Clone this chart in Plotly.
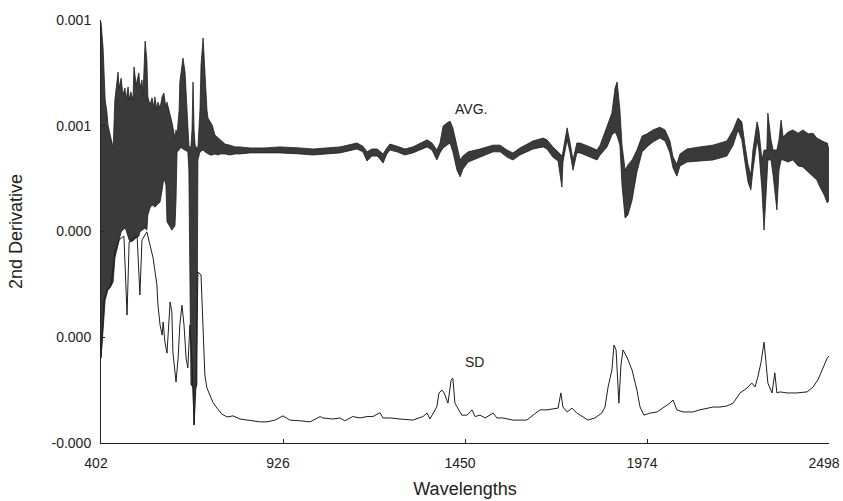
import plotly.graph_objects as go

# ---- AVG. band (upper / lower envelope of the overlaid average spectra) ----
AVG_WL = [402, 405, 408, 414, 419, 422, 428, 437, 442, 451, 454, 460, 465, 471, 474, 480, 483, 488,
          494, 497, 503, 511, 514, 520, 523, 529, 534, 537, 543, 549, 555, 557, 563, 566, 572, 578,
          583, 589, 592, 598, 606, 615, 618, 621, 627, 629, 635, 638, 644, 647, 652, 655, 658, 661,
          664, 667, 670, 673, 678, 681, 687, 690, 696, 701, 707, 710, 716, 722, 730, 739, 745, 759,
          773, 788, 802, 831, 874, 917, 975, 1012, 1090, 1110, 1139, 1156, 1168, 1182, 1197, 1205,
          1214, 1225, 1234, 1254, 1277, 1300, 1341, 1355, 1369, 1378, 1387, 1398, 1407, 1415, 1427,
          1436, 1444, 1459, 1493, 1531, 1551, 1571, 1588, 1608, 1646, 1675, 1686, 1703, 1718, 1729,
          1732, 1744, 1752, 1761, 1772, 1781, 1810, 1830, 1839, 1859, 1873, 1882, 1888, 1896, 1902,
          1911, 1919, 1931, 1945, 1960, 1974, 1991, 2011, 2026, 2040, 2049, 2060, 2069, 2089, 2126,
          2164, 2204, 2222, 2236, 2247, 2256, 2265, 2273, 2279, 2291, 2296, 2305, 2311, 2319, 2322,
          2331, 2337, 2348, 2354, 2360, 2366, 2380, 2394, 2409, 2423, 2438, 2452, 2463, 2472, 2484,
          2493, 2498]
AVG_HI = [9.94e-4, 9.43e-4, 9.21e-4, 7.73e-4, 7.39e-4, 7.02e-4, 6.74e-4, 6.37e-4, 7.73e-4, 8.52e-4,
          8.07e-4, 8.35e-4, 7.87e-4, 8.07e-4, 7.73e-4, 8.10e-4, 7.73e-4, 7.96e-4, 7.73e-4, 8.67e-4,
          8.16e-4, 8.50e-4, 8.07e-4, 8.30e-4, 7.87e-4, 9.40e-4, 8.87e-4, 7.82e-4, 7.59e-4, 7.79e-4,
          7.50e-4, 7.82e-4, 7.45e-4, 7.67e-4, 7.50e-4, 7.82e-4, 7.93e-4, 7.50e-4, 7.67e-4, 7.45e-4,
          7.11e-4, 6.65e-4, 6.88e-4, 6.74e-4, 7.45e-4, 8.24e-4, 8.81e-4, 8.92e-4, 8.52e-4, 8.01e-4,
          6.82e-4, 6.45e-4, 6.37e-4, 6.42e-4, 6.88e-4, 8.24e-4, 6.88e-4, 6.45e-4, 6.37e-4, 6.37e-4,
          7.45e-4, 8.72e-4, 9.49e-4, 8.44e-4, 7.45e-4, 7.22e-4, 7.11e-4, 7.02e-4, 6.74e-4, 6.65e-4,
          6.60e-4, 6.48e-4, 6.45e-4, 6.40e-4, 6.40e-4, 6.37e-4, 6.37e-4, 6.40e-4, 6.37e-4, 6.34e-4,
          6.40e-4, 6.45e-4, 6.51e-4, 6.42e-4, 6.26e-4, 6.34e-4, 6.34e-4, 6.28e-4, 6.20e-4, 6.37e-4,
          6.48e-4, 6.42e-4, 6.34e-4, 6.40e-4, 6.60e-4, 6.51e-4, 6.31e-4, 6.51e-4, 6.99e-4, 7.08e-4,
          7.13e-4, 6.94e-4, 6.37e-4, 6.03e-4, 6.14e-4, 6.26e-4, 6.34e-4, 6.45e-4, 6.45e-4, 6.31e-4,
          6.23e-4, 6.37e-4, 6.57e-4, 6.65e-4, 6.60e-4, 6.40e-4, 6.26e-4, 6.14e-4, 6.26e-4, 6.94e-4,
          6.54e-4, 6.03e-4, 6.51e-4, 6.51e-4, 6.40e-4, 6.31e-4, 6.45e-4, 6.96e-4, 7.36e-4, 8.07e-4,
          8.24e-4, 7.45e-4, 6.45e-4, 5.74e-4, 5.89e-4, 6.03e-4, 6.31e-4, 6.71e-4, 6.77e-4, 6.88e-4,
          6.96e-4, 6.88e-4, 6.57e-4, 6.11e-4, 5.91e-4, 6.20e-4, 6.34e-4, 6.40e-4, 6.45e-4, 6.57e-4,
          6.88e-4, 7.22e-4, 7.11e-4, 6.45e-4, 5.89e-4, 5.60e-4, 6.31e-4, 7.11e-4, 6.88e-4, 6.03e-4,
          6.31e-4, 6.31e-4, 7.36e-4, 6.60e-4, 6.31e-4, 6.31e-4, 6.60e-4, 7.16e-4, 6.68e-4, 6.82e-4,
          6.88e-4, 6.79e-4, 6.88e-4, 6.77e-4, 6.79e-4, 6.65e-4, 6.60e-4, 6.54e-4, 6.51e-4, 6.31e-4]
AVG_LO = [0.41e-4, 0.92e-4, 1.21e-4, 2.06e-4, 2.28e-4, 2.34e-4, 2.40e-4, 2.57e-4, 3.25e-4, 3.62e-4,
          3.76e-4, 3.99e-4, 4.04e-4, 4.10e-4, 4.04e-4, 3.87e-4, 3.76e-4, 3.70e-4, 3.73e-4, 3.76e-4,
          3.82e-4, 3.87e-4, 3.99e-4, 4.04e-4, 4.07e-4, 4.10e-4, 4.04e-4, 4.47e-4, 4.67e-4, 4.75e-4,
          4.72e-4, 4.69e-4, 4.75e-4, 4.78e-4, 4.84e-4, 5.18e-4, 5.52e-4, 5.32e-4, 4.27e-4, 4.18e-4,
          4.04e-4, 4.16e-4, 4.89e-4, 6.26e-4, 6.31e-4, 6.37e-4, 6.37e-4, 6.34e-4, 6.31e-4, 6.28e-4,
          6.26e-4, 5.74e-4, 2.06e-4, -0.35e-4, -0.38e-4, -0.44e-4, -1.49e-4, -0.50e-4, -0.35e-4, 6.03e-4,
          6.26e-4, 6.28e-4, 6.31e-4, 6.26e-4, 6.23e-4, 6.20e-4, 6.17e-4, 6.17e-4, 6.20e-4, 6.17e-4,
          6.20e-4, 6.20e-4, 6.17e-4, 6.20e-4, 6.20e-4, 6.23e-4, 6.23e-4, 6.23e-4, 6.20e-4, 6.17e-4,
          6.23e-4, 6.28e-4, 6.34e-4, 6.26e-4, 6.00e-4, 6.14e-4, 6.14e-4, 6.06e-4, 5.94e-4, 6.20e-4,
          6.31e-4, 6.26e-4, 6.17e-4, 6.23e-4, 6.40e-4, 6.31e-4, 6.03e-4, 6.23e-4, 6.37e-4, 6.45e-4,
          6.51e-4, 6.26e-4, 5.74e-4, 5.55e-4, 5.77e-4, 5.97e-4, 6.11e-4, 6.26e-4, 6.26e-4, 6.11e-4,
          6.03e-4, 6.17e-4, 6.34e-4, 6.40e-4, 6.34e-4, 6.11e-4, 6.00e-4, 5.26e-4, 5.97e-4, 6.60e-4,
          6.26e-4, 5.74e-4, 6.23e-4, 6.23e-4, 6.11e-4, 6.03e-4, 6.17e-4, 6.40e-4, 6.74e-4, 6.82e-4,
          6.71e-4, 6.45e-4, 5.32e-4, 4.38e-4, 4.47e-4, 4.89e-4, 5.69e-4, 6.26e-4, 6.40e-4, 6.54e-4,
          6.65e-4, 6.57e-4, 6.23e-4, 5.80e-4, 5.57e-4, 5.86e-4, 5.97e-4, 6.00e-4, 6.03e-4, 6.14e-4,
          6.45e-4, 6.88e-4, 6.60e-4, 5.97e-4, 5.40e-4, 5.18e-4, 5.74e-4, 6.60e-4, 6.31e-4, 5.18e-4,
          4.04e-4, 5.46e-4, 6.03e-4, 6.03e-4, 5.60e-4, 4.61e-4, 5.74e-4, 6.03e-4, 6.03e-4, 5.97e-4,
          6.03e-4, 5.86e-4, 5.83e-4, 5.69e-4, 5.55e-4, 5.46e-4, 5.26e-4, 5.04e-4, 4.81e-4, 4.89e-4]

# ---- SD curve ----
SD_WL = [402, 411, 419, 431, 442, 454, 468, 477, 483, 494, 506, 514, 520, 534, 543, 552, 563, 566,
         572, 578, 581, 586, 592, 595, 601, 606, 609, 618, 624, 629, 635, 641, 647, 652, 658, 664,
         670, 676, 681, 690, 693, 696, 701, 707, 716, 724, 736, 750, 765, 782, 802, 831, 860, 880,
         903, 926, 946, 975, 1004, 1033, 1041, 1070, 1090, 1104, 1127, 1148, 1168, 1185, 1205, 1214,
         1234, 1263, 1300, 1329, 1341, 1349, 1369, 1375, 1384, 1390, 1398, 1401, 1410, 1415, 1421,
         1430, 1441, 1456, 1470, 1479, 1493, 1508, 1531, 1542, 1559, 1588, 1628, 1646, 1666, 1686,
         1703, 1718, 1726, 1732, 1744, 1758, 1772, 1790, 1804, 1824, 1844, 1853, 1862, 1873, 1879,
         1885, 1888, 1893, 1899, 1905, 1916, 1931, 1945, 1954, 1965, 1983, 2003, 2020, 2040, 2049,
         2060, 2078, 2106, 2126, 2147, 2164, 2184, 2204, 2222, 2242, 2262, 2276, 2285, 2293, 2302,
         2311, 2316, 2322, 2334, 2342, 2348, 2357, 2377, 2406, 2435, 2452, 2466, 2481, 2493, 2498]
SD_VAL = [0.41e-4, 2.06e-4, 2.34e-4, 2.48e-4, 3.42e-4, 3.76e-4, 3.87e-4, 1.63e-4, 3.70e-4, 3.82e-4,
          3.87e-4, 2.20e-4, 3.76e-4, 3.99e-4, 3.62e-4, 3.25e-4, 2.48e-4, 1.91e-4, 1.35e-4, 1.06e-4,
          1.43e-4, 0.86e-4, 0.55e-4, 1.06e-4, 2.00e-4, 1.72e-4, 0.58e-4, -0.27e-4, 0.41e-4, 1.35e-4,
          1.91e-4, 1.35e-4, 0.41e-4, 0.13e-4, 1.35e-4, 0.35e-4, -1.49e-4, -0.21e-4, 2.85e-4, 2.77e-4,
          1.83e-4, 0.86e-4, -0.07e-4, -0.44e-4, -0.64e-4, -0.84e-4, -1.01e-4, -1.18e-4, -1.26e-4, -1.23e-4,
          -1.32e-4, -1.37e-4, -1.40e-4, -1.40e-4, -1.35e-4, -1.23e-4, -1.35e-4, -1.37e-4, -1.40e-4, -1.25e-4,
          -1.29e-4, -1.32e-4, -1.29e-4, -1.37e-4, -1.25e-4, -1.29e-4, -1.25e-4, -1.25e-4, -1.14e-4, -1.29e-4,
          -1.29e-4, -1.32e-4, -1.35e-4, -1.25e-4, -1.15e-4, -1.32e-4, -0.97e-4, -0.58e-4, -0.50e-4, -0.58e-4,
          -0.78e-4, -0.87e-4, -0.21e-4, -0.16e-4, -0.87e-4, -1.01e-4, -1.21e-4, -1.21e-4, -1.06e-4, -1.25e-4,
          -1.21e-4, -1.29e-4, -1.15e-4, -1.29e-4, -1.29e-4, -1.35e-4, -1.35e-4, -1.21e-4, -1.06e-4, -1.06e-4,
          -1.04e-4, -1.01e-4, -0.58e-4, -0.98e-4, -1.12e-4, -1.01e-4, -1.15e-4, -1.26e-4, -1.35e-4, -1.29e-4,
          -1.15e-4, -0.98e-4, -0.41e-4, 0.07e-4, 0.78e-4, 0.64e-4, -0.13e-4, -0.87e-4, 0.21e-4, 0.64e-4,
          0.44e-4, 0.07e-4, -0.50e-4, -0.98e-4, -1.21e-4, -1.15e-4, -1.12e-4, -1.01e-4, -0.87e-4, -0.78e-4,
          -1.06e-4, -1.12e-4, -1.12e-4, -1.06e-4, -1.01e-4, -0.98e-4, -0.98e-4, -0.95e-4, -0.87e-4, -0.58e-4,
          -0.44e-4, -0.30e-4, -0.41e-4, -0.13e-4, 0.27e-4, 0.86e-4, 0.35e-4, -0.30e-4, -0.58e-4, -0.01e-4,
          -0.58e-4, -0.55e-4, -0.58e-4, -0.58e-4, -0.55e-4, -0.41e-4, -0.21e-4, 0.13e-4, 0.41e-4, 0.47e-4]

# ---- axis ticks ----
X_TICKS = [402, 926, 1450, 1974, 2498]
Y_TICKS = [-0.0002, 0.0001, 0.0004, 0.0007, 0.0010]
Y_TICK_TEXT = ["-0.000", "0.000", "0.000", "0.001", "0.001"]

INK = "#1e1e1e"
BAND = "#3a3a3a"
FONT = "Liberation Sans, Arial, Helvetica, sans-serif"

fig = go.Figure()
fig.add_trace(go.Scatter(x=AVG_WL, y=AVG_LO, mode="lines",
                         line=dict(color=INK, width=0.8), hoverinfo="skip", showlegend=False))
fig.add_trace(go.Scatter(x=AVG_WL, y=AVG_HI, mode="lines", fill="tonexty", fillcolor=BAND,
                         line=dict(color=INK, width=0.8), name="AVG.", showlegend=False))
fig.add_trace(go.Scatter(x=SD_WL, y=SD_VAL, mode="lines",
                         line=dict(color=INK, width=1), name="SD", showlegend=False))

fig.add_annotation(x=1467, y=7.48e-4, text="AVG.", showarrow=False,
                   font=dict(family=FONT, size=14, color="#222"))
fig.add_annotation(x=1476, y=0.30e-4, text="SD", showarrow=False,
                   font=dict(family=FONT, size=14, color="#222"))

fig.update_layout(
    width=843, height=501,
    margin=dict(l=101, r=14, t=20, b=58),
    paper_bgcolor="white", plot_bgcolor="white",
    font=dict(family=FONT, size=14, color="#222"),
    showlegend=False,
)
fig.update_xaxes(range=[402, 2498], tickvals=X_TICKS, ticktext=[str(v) for v in X_TICKS],
                 showgrid=False, zeroline=False, showline=True, linecolor="#222", linewidth=1,
                 ticks="inside", ticklen=4, tickcolor="#222", automargin=False,
                 ticklabelstandoff=7, ticklabelshift=-5,
                 title=dict(text="Wavelengths", font=dict(size=18), standoff=12))
fig.update_yaxes(range=[-0.0002, 0.0010], tickvals=Y_TICKS, ticktext=Y_TICK_TEXT,
                 showgrid=False, zeroline=False, showline=True, linecolor="#222", linewidth=1,
                 ticks="inside", ticklen=4, tickcolor="#222", ticklabelstandoff=6, automargin=False,
                 title=dict(text="2nd Derivative", font=dict(size=18), standoff=24))

fig.write_html("out.html", config={"displayModeBar": False},
               post_script="document.body.style.margin='0';document.body.style.overflow='hidden';")
